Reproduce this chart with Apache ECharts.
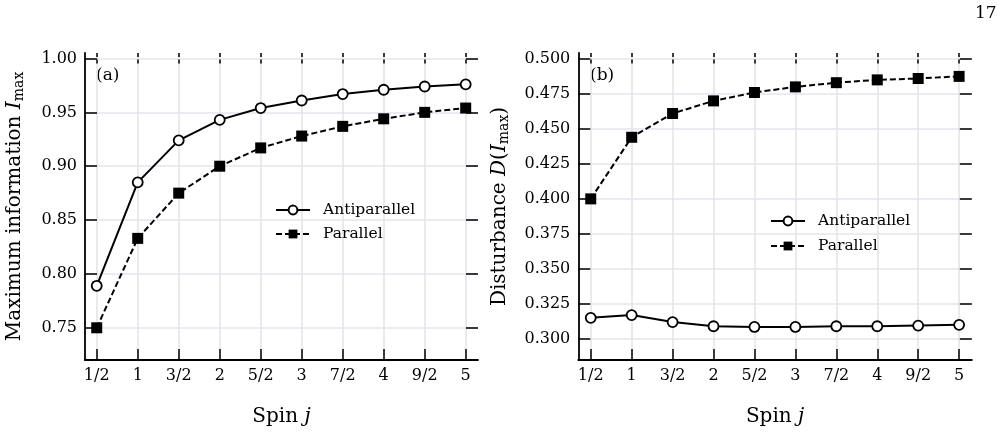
<!DOCTYPE html>
<html>
<head>
<meta charset="utf-8">
<script src="https://cdn.jsdelivr.net/npm/echarts@6/dist/echarts.min.js"></script>
<style>
html,body{margin:0;padding:0;background:#fff;}
#chart{width:1003px;height:432px;}
</style>
</head>
<body>
<div id="chart"></div>
<script>
// ---- data ----
const spins = [0.5, 1, 1.5, 2, 2.5, 3, 3.5, 4, 4.5, 5];
const spinLabels = ['1/2', '1', '3/2', '2', '5/2', '3', '7/2', '4', '9/2', '5'];
const infoAnti = [0.789, 0.885, 0.924, 0.943, 0.954, 0.961, 0.967, 0.971, 0.974, 0.976];
const infoPar = [0.750, 0.833, 0.875, 0.900, 0.917, 0.928, 0.937, 0.944, 0.950, 0.954];
const distAnti = [0.315, 0.317, 0.312, 0.309, 0.3085, 0.3085, 0.309, 0.309, 0.3095, 0.310];
const distPar = [0.400, 0.444, 0.461, 0.470, 0.476, 0.480, 0.483, 0.485, 0.486, 0.4875];
const yTicksA = [0.75, 0.80, 0.85, 0.90, 0.95, 1.00];
const yTicksB = [0.300, 0.325, 0.350, 0.375, 0.400, 0.425, 0.450, 0.475, 0.500];
const seriesNames = ['Antiparallel', 'Parallel'];

const FONT = 'DejaVu Serif';
const GRIDC = '#e4e4ec';

function spinLabel(v) {
  for (let i = 0; i < spins.length; i++) if (Math.abs(spins[i] - v) < 1e-6) return spinLabels[i];
  return '';
}
function pairs(ys) { return spins.map((x, i) => [x, ys[i]]); }

function xAxes(gi, min, max) {
  return [
    {
      type: 'value', gridIndex: gi, position: 'bottom', min: min, max: max,
      name: 'Spin {i|j}', nameLocation: 'middle', nameGap: 47,
      nameMoveOverlap: false,
      nameTextStyle: { fontFamily: FONT, fontSize: 20, color: '#000',
        rich: { i: { fontFamily: FONT, fontStyle: 'italic', fontSize: 20, color: '#000' } } },
      axisLine: { show: true, onZero: false, lineStyle: { color: '#000', width: 1.8 } },
      axisTick: { show: true, inside: true, length: 11, customValues: spins, lineStyle: { color: '#000', width: 1.5 } },
      axisLabel: { show: true, customValues: spins, formatter: spinLabel, margin: 8,
        fontFamily: FONT, fontSize: 16, color: '#000' },
      splitLine: { show: true, lineStyle: { color: GRIDC, width: 1.6 } }
    },
    {
      type: 'value', gridIndex: gi, position: 'top', min: min, max: max,
      axisLine: { show: false, onZero: false },
      axisTick: { show: true, inside: true, length: 12, customValues: spins,
        lineStyle: { color: '#000', width: 1.5, type: [4, 2.5] } },
      axisLabel: { show: false },
      splitLine: { show: false }
    }
  ];
}
function yAxes(gi, min, max, ticks, digits, nameStr, nameRich, gap) {
  return [
    {
      type: 'value', gridIndex: gi, position: 'left', min: min, max: max,
      name: nameStr, nameLocation: 'middle', nameGap: gap, nameRotate: 90,
      nameMoveOverlap: false,
      nameTextStyle: { fontFamily: FONT, fontSize: 20, color: '#000', rich: nameRich },
      axisLine: { show: true, onZero: false, lineStyle: { color: '#000', width: 1.8 } },
      axisTick: { show: true, inside: true, length: 12, customValues: ticks, lineStyle: { color: '#000', width: 1.5 } },
      axisLabel: { show: true, customValues: ticks, formatter: v => v.toFixed(digits), margin: 8,
        fontFamily: FONT, fontSize: 16, color: '#000' },
      splitLine: { show: true, lineStyle: { color: GRIDC, width: 1.6 } }
    },
    {
      type: 'value', gridIndex: gi, position: 'right', min: min, max: max,
      axisLine: { show: false, onZero: false },
      axisTick: { show: true, inside: true, length: 12, customValues: ticks, lineStyle: { color: '#000', width: 1.5 } },
      axisLabel: { show: false },
      splitLine: { show: false }
    }
  ];
}

const richName = {
  i: { fontFamily: FONT, fontStyle: 'italic', fontSize: 20, color: '#000' },
  sub: { fontFamily: FONT, fontSize: 14, color: '#000', padding: [9, 0, 0, 0] }
};

function antiSeries(xi, yi, data) {
  return {
    name: seriesNames[0], type: 'line', xAxisIndex: xi, yAxisIndex: yi, data: data,
    symbol: 'circle', symbolSize: 10,
    lineStyle: { color: '#000', width: 2, type: 'solid' },
    itemStyle: { color: '#fff', borderColor: '#000', borderWidth: 1.8 },
    emphasis: { disabled: true }, animation: false
  };
}
function parSeries(xi, yi, data) {
  return {
    name: seriesNames[1], type: 'line', xAxisIndex: xi, yAxisIndex: yi, data: data,
    symbol: 'rect', symbolSize: 11,
    lineStyle: { color: '#000', width: 2, type: [6, 3] },
    itemStyle: { color: '#000', borderWidth: 0 },
    emphasis: { disabled: true }, animation: false
  };
}

const legendBase = {
  orient: 'vertical', padding: 0, itemWidth: 34, itemHeight: 11, selectedMode: false,
  textStyle: { fontFamily: FONT, fontSize: 15.5, color: '#000', lineHeight: 16, padding: [0, 0, 0, 8] },
  data: seriesNames
};

const chart = echarts.init(document.getElementById('chart'), null, { renderer: 'canvas' });
chart.setOption({
  animation: false,
  backgroundColor: '#fff',
  grid: [
    { left: 85, top: 53, width: 393, height: 314.5 },
    { left: 578.3, top: 53, width: 393.5, height: 314.5 }
  ],
  xAxis: [...xAxes(0, 0.357, 5.15), ...xAxes(1, 0.348, 5.155)],
  yAxis: [
    ...yAxes(0, 0.7201, 1.0051, yTicksA, 2, 'Maximum information {i|I}{sub|max}', richName, 59),
    ...yAxes(1, 0.2849, 0.5042, yTicksB, 3, 'Disturbance {i|D}({i|I}{sub|max})', richName, 67)
  ],
  legend: [
    Object.assign({}, legendBase, { left: 275, top: 202, itemGap: 8 }),
    Object.assign({}, legendBase, { left: 770, top: 213, itemGap: 9 })
  ],
  graphic: [
    { type: 'text', left: 96, top: 67, style: { text: '(a)', fontFamily: FONT, fontSize: 17, fill: '#000' } },
    { type: 'text', left: 590, top: 67, style: { text: '(b)', fontFamily: FONT, fontSize: 17, fill: '#000' } },
    { type: 'text', left: 975, top: 5, style: { text: '17', fontFamily: FONT, fontSize: 17, fill: '#000' } }
  ],
  series: [
    antiSeries(0, 0, pairs(infoAnti)),
    parSeries(0, 0, pairs(infoPar)),
    antiSeries(2, 2, pairs(distAnti)),
    parSeries(2, 2, pairs(distPar))
  ]
});
</script>
</body>
</html>
